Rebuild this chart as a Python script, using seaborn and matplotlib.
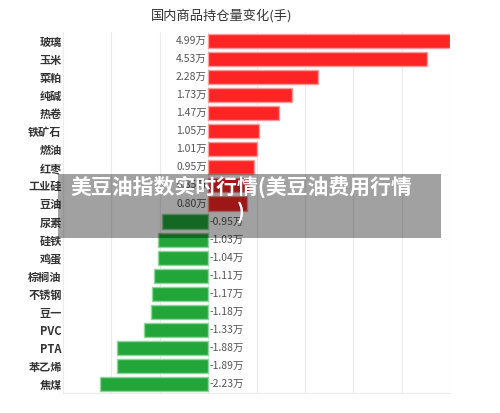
import numpy as np
import pandas as pd
import matplotlib
matplotlib.use("Agg")
import matplotlib.pyplot as plt
import seaborn as sns
from matplotlib.patches import Rectangle

categories = ["玻璃", "玉米", "菜粕", "纯碱", "热卷", "铁矿石", "燃油", "红枣", "工业硅", "豆油",
              "尿素", "硅铁", "鸡蛋", "棕榈油", "不锈钢", "豆一", "PVC", "PTA", "苯乙烯", "焦煤"]
values = [4.99, 4.53, 2.28, 1.73, 1.47, 1.05, 1.01, 0.95, 0.85, 0.80,
          -0.95, -1.03, -1.04, -1.11, -1.17, -1.18, -1.33, -1.88, -1.89, -2.23]
title = "国内商品持仓量变化(手)"
overlay_text = "美豆油指数实时行情(美豆油费用行情\n)"

df = pd.DataFrame({"品种": categories, "变化": values})
df["方向"] = np.where(df["变化"] >= 0, "增", "减")

sns.set_style("white")
plt.rcParams['font.family'] = ['Noto Sans CJK SC', 'DejaVu Sans']

fig = plt.figure(figsize=(5, 4.13), dpi=100)
ax = fig.add_axes([0.126, 0.048, 0.774, 0.875])

sns.barplot(data=df, x="变化", y="品种", hue="方向", dodge=False, orient="h",
            palette={"增": "#fc2424", "减": "#22a63a"}, width=0.78, saturation=1,
            linewidth=1, legend=False, ax=ax)
for p, v in zip(ax.patches, values):
    p.set_edgecolor("#ff9a9a" if v >= 0 else "#8fd49a")

ax.set_xlim(-3, 5)
ax.set_xticks(range(-3, 6))
ax.set_xticklabels([])
ax.tick_params(axis="x", length=0)
ax.tick_params(axis="y", length=0, pad=1)
ax.grid(axis="x", color="#ececec", linewidth=0.8)
ax.set_axisbelow(True)
for s in ["top", "right"]:
    ax.spines[s].set_visible(False)
for s in ["left", "bottom"]:
    ax.spines[s].set_color("#ececec")
    ax.spines[s].set_linewidth(0.8)
ax.set_xlabel("")
ax.set_ylabel("")
for lab in ax.get_yticklabels():
    lab.set_fontsize(8)
    lab.set_fontweight("bold")
    lab.set_color("#333333")

for i, v in enumerate(values):
    txt = f"{v:.2f}万"
    if v >= 0:
        ax.text(-0.03, i, txt, ha="right", va="center", fontsize=7.5, color="#555555")
    else:
        ax.text(0.03, i, txt, ha="left", va="center", fontsize=7.5, color="#555555")

fig.text(0.444, 0.963, title, ha="center", va="center", fontsize=9.5, color="#333333")

fig.patches.append(Rectangle((58 / 500, 1 - 238 / 413), 383 / 500, 64 / 413,
                             transform=fig.transFigure, facecolor="black",
                             alpha=0.37, edgecolor="none", zorder=5))
fig.text(241 / 500, 1 - 176 / 413, overlay_text, ha="center", va="top", fontsize=15,
         fontweight="bold", color="white", zorder=6, linespacing=1.15,
         multialignment="center")

fig.savefig("out.png", dpi=100)
